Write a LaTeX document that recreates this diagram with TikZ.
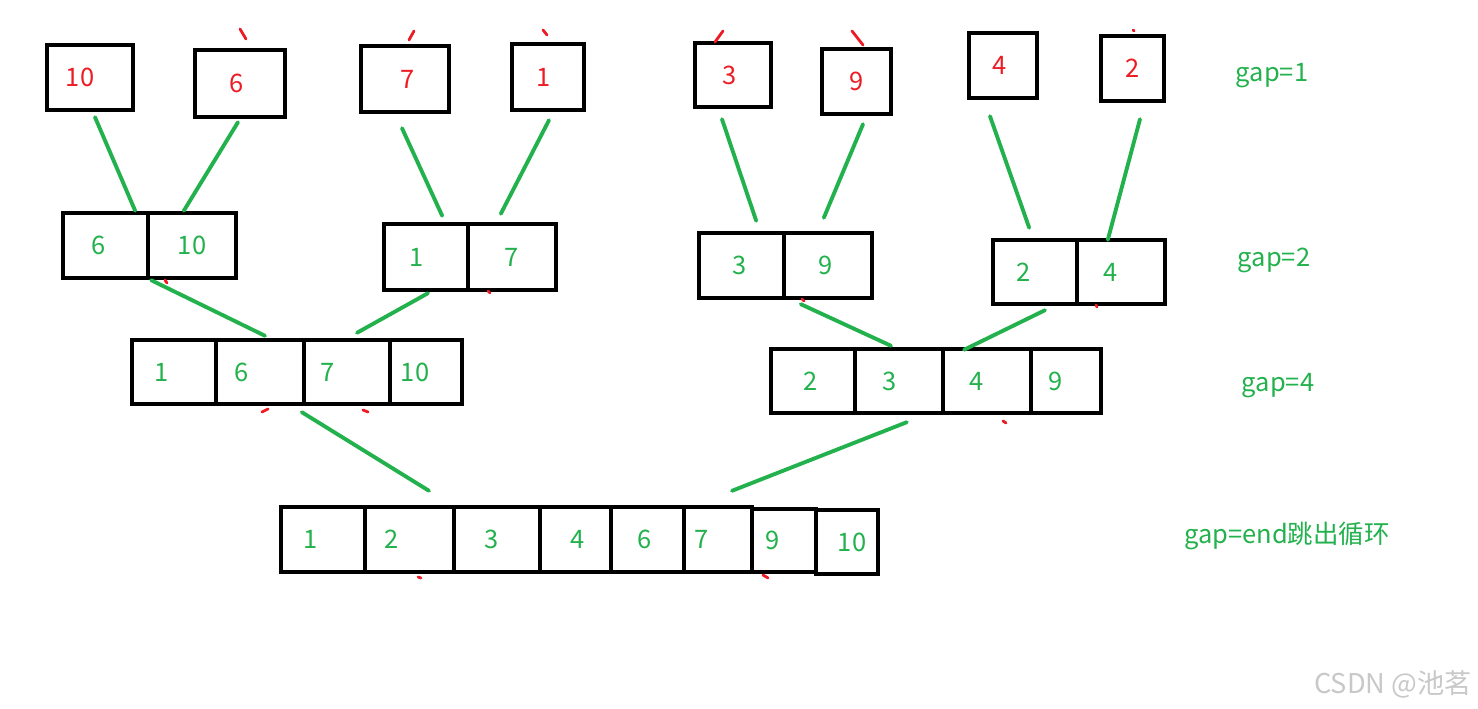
\documentclass[tikz,border=0pt]{standalone}
\usepackage{fontspec}
\setmainfont{Noto Sans CJK SC}
\usetikzlibrary{calc}
\definecolor{pred}{RGB}{237,28,36}
\definecolor{pgreen}{RGB}{34,177,76}
\definecolor{mark}{RGB}{200,200,200}
\newdimen\pxx \pxx=0.04cm
\tikzset{
  box/.style={draw=black,line width=2.5pt,rectangle,inner sep=0pt},
  sz/.style 2 args={minimum width=#1*0.02cm,minimum height=#2*0.02cm},
  tx/.style={execute at begin node={\hspace*{#1\pxx}}},
  num/.style={font=\fontsize{14.5}{17}\selectfont},
  link/.style={draw=pgreen,line width=2.2pt,line cap=round},
  slip/.style={draw=pred,line width=1.6pt,line cap=round}
}
\begin{document}
\begin{tikzpicture}[x=0.02cm,y=-0.02cm]
      \useasboundingbox (0,0) rectangle (1478,709);
      % gap=1
      \node[box,num,text=pred,sz={86}{65},tx=-10] (t10) at (90,77.5) {10};
      \node[box,num,text=pred,sz={90}{67},tx=-3] (t6) at (240,83.5) {6};
      \node[box,num,text=pred,sz={88}{66},tx=3] (t7) at (405,79) {7};
      \node[box,num,text=pred,sz={72}{66},tx=-4] (t1) at (548,77) {1};
      \node[box,num,text=pred,sz={76}{64},tx=-3] (t3) at (733,75) {3};
      \node[box,num,text=pred,sz={69}{65}] (t9) at (856.5,81.5) {9};
      \node[box,num,text=pred,sz={68}{65},tx=-3] (t4) at (1003,65.5) {4};
      \node[box,num,text=pred,sz={63}{65}] (t2) at (1132.5,68.5) {2};
      % gap=2
      \node[box,num,text=pgreen,sz={85}{65},tx=-7] (c6) at (105.5,245.5) {6};
      \node[box,num,text=pgreen,sz={88}{65}] (c10) at (192,245.5) {10};
      \node[box,num,text=pgreen,sz={84}{66},tx=-9] (c1) at (426,257) {1};
      \node[box,num,text=pgreen,sz={88}{66}] (c7) at (512,257) {7};
      \node[box,num,text=pgreen,sz={85}{65},tx=-2] (c3) at (741.5,265.5) {3};
      \node[box,num,text=pgreen,sz={88}{65},tx=-2] (c9) at (828,265.5) {9};
      \node[box,num,text=pgreen,sz={84}{64},tx=-11] (c2) at (1035,272) {2};
      \node[box,num,text=pgreen,sz={88}{64},tx=-10] (c4) at (1121,272) {4};
      % gap=4
      \node[box,num,text=pgreen,sz={84}{64},tx=-12] (d1) at (174,372) {1};
      \node[box,num,text=pgreen,sz={88}{64},tx=-18] (d6) at (260,372) {6};
      \node[box,num,text=pgreen,sz={86}{64},tx=-19] (d7) at (347,372) {7};
      \node[box,num,text=pgreen,sz={72}{64},tx=-11] (d10) at (426,372) {10};
      \node[box,num,text=pgreen,sz={84}{64},tx=-2] (e2) at (813,381) {2};
      \node[box,num,text=pgreen,sz={88}{64},tx=-9] (e3) at (899,381) {3};
      \node[box,num,text=pgreen,sz={88}{64},tx=-10] (e4) at (987,381) {4};
      \node[box,num,text=pgreen,sz={70}{64},tx=-10] (e9) at (1066,381) {9};
      % end
      \node[box,num,text=pgreen,sz={84}{65},tx=-12] (f1) at (323,539.5) {1};
      \node[box,num,text=pgreen,sz={89}{65},tx=-18] (f2) at (409.5,539.5) {2};
      \node[box,num,text=pgreen,sz={86}{65},tx=-5] (f3) at (497,539.5) {3};
      \node[box,num,text=pgreen,sz={71}{65},tx=2] (f4) at (575.5,539.5) {4};
      \node[box,num,text=pgreen,sz={73}{65},tx=-3] (f6) at (647.5,539.5) {6};
      \node[box,num,text=pgreen,sz={68}{65},tx=-16] (f7) at (718,539.5) {7};
      \node[box,num,text=pgreen,sz={64}{63},tx=-11] (f9) at (784,540.5) {9};
      \node[box,num,text=pgreen,sz={62}{64},tx=5] (f10) at (847,542) {10};
      % labels
      \node[num,text=pgreen] (g1) at (1272,76) {gap=1};
      \node[num,text=pgreen] (g2) at (1274,260) {gap=2};
      \node[num,text=pgreen] (g4) at (1278,386) {gap=4};
      \node[num,text=pgreen] (gend) at (1287,536) {gap=end跳出循环};
      \node[font=\fontsize{15.5}{18}\selectfont,text=mark] (wm) at (1393,684) {CSDN @池茗};
      % green links
      \draw[link] (t10.south) ++(5,5) -- ($(c6.north east)+(-15,0)$);
      \draw[link] (t6.south) ++(-2,3) -- ($(c10.north west)+(38,0)$);
      \draw[link] (t7.south) ++(-3,14) -- ($(c1.north east)+(-28,-6)$);
      \draw[link] (t1.south) ++(1,8) -- ($(c7.north west)+(35,-8)$);
      \draw[link] (t3.south) ++(-11,10) -- ($(c3.north east)+(-30,-10)$);
      \draw[link] (t9.south) ++(6.5,8) -- ($(c9.north west)+(42,-13)$);
      \draw[link] (t4.south) ++(-13,16) -- ($(c2.north east)+(-50,-10)$);
      \draw[link] (t2.south) ++(7.5,16) -- ($(c4.north west)+(33,2)$);
      \draw[link] (c6.south east) ++(1,0) -- ($(d6.north)+(5,-2)$);
      \draw[link] (c1.south) ++(2,1) -- ($(d7.north)+(10,-5)$);
      \draw[link] (c9.south west) ++(19,4) -- ($(e3.north)+(-8,-1)$);
      \draw[link] (c2.south) ++(10,4) -- ($(e4.north)+(-23,3)$);
      \draw[link] (d7.south west) ++(0,6) -- ($(f2.north)+(19.5,-14)$);
      \draw[link] (e4.south west) ++(-34,7) -- ($(f7.north)+(14,-14)$);
      % red slips of the pen
      \draw[slip] (240,29) -- (246,39) (414,31) -- (409,40) (543,30) -- (547,35)
        (723,31) -- (715,42) (852,31) -- (863,45) (1133,30) -- (1134,31)
        (165,280) -- (167,283) (488,291) -- (490,293) (802,299) -- (804,301)
        (1096,305) -- (1097,307) (262,412) -- (268,409) (363,410) -- (368,412)
        (1003,421) -- (1006,423) (418,577) -- (421,578) (763,575) -- (768,578);
     \end{tikzpicture}
\end{document}
